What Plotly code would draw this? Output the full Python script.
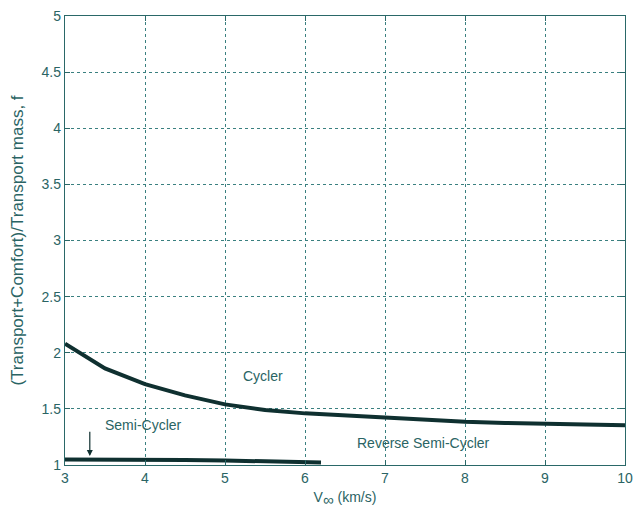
import plotly.graph_objects as go

# Data
cycler_v = [3.0, 3.5, 4.0, 4.5, 5.0, 5.5, 6.0, 6.5, 7.0, 7.5, 8.0, 8.5, 9.0, 9.5, 10.0]
cycler_f = [2.08, 1.86, 1.72, 1.62, 1.54, 1.49, 1.46, 1.44, 1.42, 1.40, 1.385, 1.375, 1.365, 1.36, 1.355]

semi_v = [3.0, 3.5, 4.0, 4.5, 5.0, 5.5, 6.0, 6.2]
semi_f = [1.05, 1.05, 1.048, 1.045, 1.04, 1.035, 1.027, 1.022]

x_ticks = [3, 4, 5, 6, 7, 8, 9, 10]
y_ticks = [1, 1.5, 2, 2.5, 3, 3.5, 4, 4.5, 5]

line_col = "#0f3030"
axis_col = "#2a6868"
text_col = "#2a6464"
grid_col = "#3a8080"
font = "Liberation Sans, Arial, sans-serif"

fig = go.Figure()
fig.add_trace(go.Scatter(x=cycler_v, y=cycler_f, mode="lines",
                         line=dict(color=line_col, width=4), showlegend=False))
fig.add_trace(go.Scatter(x=semi_v, y=semi_f, mode="lines",
                         line=dict(color=line_col, width=4), showlegend=False))

ann_font = dict(family=font, size=14, color=text_col)
fig.add_annotation(x=5.47, y=1.79, text="Cycler", showarrow=False, font=ann_font)
fig.add_annotation(x=3.98, y=1.36, text="Semi-Cycler", showarrow=False, font=ann_font)
fig.add_annotation(x=7.48, y=1.2, text="Reverse Semi-Cycler", showarrow=False, font=ann_font)
fig.add_annotation(x=3.31, y=1.08, ax=3.31, ay=1.31, xref="x", yref="y", axref="x", ayref="y",
                   text="", showarrow=True, arrowhead=2, arrowsize=1, arrowwidth=1.2,
                   arrowcolor=line_col)

axis_common = dict(showline=True, linecolor=axis_col, linewidth=1.3, mirror="ticks",
                   ticks="inside", ticklen=5, tickcolor=axis_col,
                   showgrid=True, gridcolor=grid_col, griddash="3px,3px", gridwidth=1,
                   zeroline=False, automargin=False, ticklabeloverflow="allow",
                   tickfont=dict(family=font, size=14, color=text_col))

fig.update_xaxes(range=[3, 10], tickvals=x_ticks, ticktext=[str(t) for t in x_ticks],
                 title=dict(text="V<sub><span style='font-size:15px'>∞</span></sub> (km/s)",
                            font=dict(family=font, size=14, color=text_col),
                            standoff=7),
                 **axis_common)
fig.update_yaxes(range=[1, 5], tickvals=y_ticks, ticktext=[f"{t:g}" for t in y_ticks],
                 title=dict(text="(Transport+Comfort)/Transport mass, f",
                            font=dict(family=font, size=17, color=text_col), standoff=16),
                 **axis_common)

# page body has an 8px margin, so the figure is sized/offset to compensate
fig.update_layout(width=634, height=508, margin=dict(l=57, r=17, t=8, b=51),
                  plot_bgcolor="white", paper_bgcolor="white", showlegend=False)

fig.write_html("out.html")
